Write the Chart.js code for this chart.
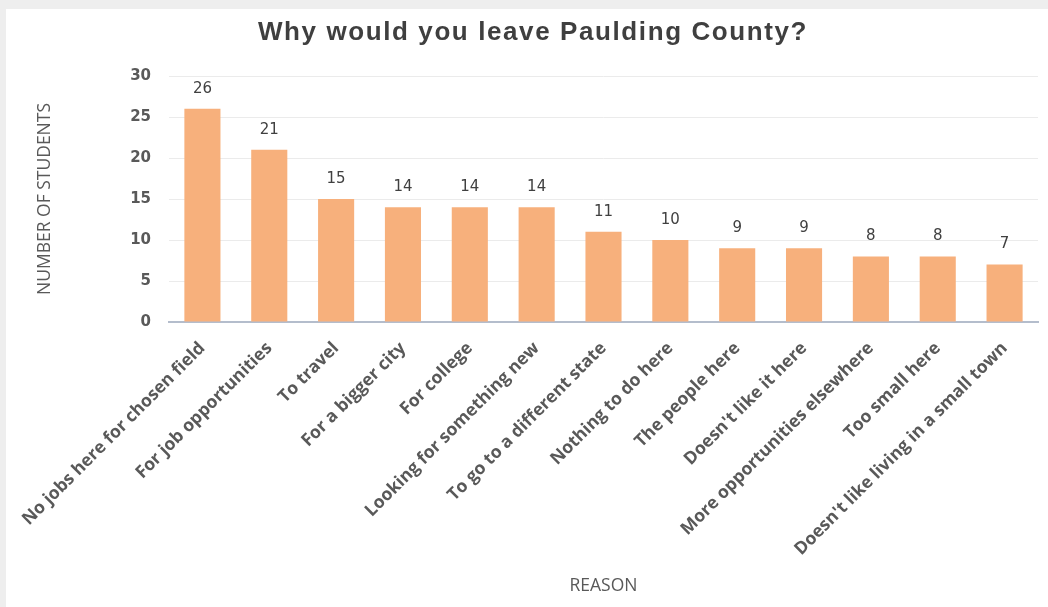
<!DOCTYPE html>
<html>
<head>
<meta charset="utf-8">
<script src="https://cdn.jsdelivr.net/npm/chart.js@4.4.1/dist/chart.umd.min.js"></script>
<style>
  html, body { margin: 0; padding: 0; background: #fff; }
  canvas { display: block; }
</style>
</head>
<body>
<canvas id="leaveChart" width="1048" height="607"></canvas>
<script>
const chartTitle = "Why would you leave Paulding County?";
const reasons = [
    "No jobs here for chosen field",
    "For job opportunities",
    "To travel",
    "For a bigger city",
    "For college",
    "Looking for something new",
    "To go to a different state",
    "Nothing to do here",
    "The people here",
    "Doesn't like it here",
    "More opportunities elsewhere",
    "Too small here",
    "Doesn't like living in a small town",
];
const students = [26, 21, 15, 14, 14, 14, 11, 10, 9, 9, 8, 8, 7];
const yTicks = [0, 5, 10, 15, 20, 25, 30];

const barColor = "#f7b07c";
const textGray = "#595959";

// grey frame around the white card
const frame = {
    id: "frame",
    beforeDraw(chart) {
        const c = chart.ctx;
        c.save();
        c.fillStyle = "#eeeeee";
        c.fillRect(0, 0, chart.width, chart.height);
        c.fillStyle = "#ffffff";
        c.fillRect(6, 9, chart.width - 6, chart.height - 9);
        c.restore();
    },
};

// spaced-out heading, centred over the card
const heading = {
    id: "heading",
    afterDraw(chart) {
        const c = chart.ctx;
        c.save();
        c.font = "bold 26px 'Liberation Sans', Arial";
        c.letterSpacing = "1.6px";
        c.fillStyle = "#3f3f3f";
        c.textAlign = "center";
        c.textBaseline = "middle";
        c.fillText(chartTitle, 533, 33);
        c.restore();
    },
};

// value printed above each bar
const valueLabels = {
    id: "valueLabels",
    afterDatasetsDraw(chart) {
        const c = chart.ctx;
        const meta = chart.getDatasetMeta(0);
        c.save();
        c.font = "15px 'DejaVu Sans'";
        c.fillStyle = "#404040";
        c.textAlign = "center";
        c.textBaseline = "middle";
        meta.data.forEach((bar, i) => {
            c.fillText(students[i], bar.x, bar.y - 20);
        });
        c.restore();
    },
};

const ctx = document.getElementById("leaveChart").getContext("2d");

const chart = new Chart(ctx, {
    type: "bar",
    data: {
        labels: reasons,
        datasets: [
            {
                data: students,
                backgroundColor: barColor,
                borderWidth: 0,
                categoryPercentage: 1,
                barPercentage: 0.54,
            },
        ],
    },
    options: {
        responsive: false,
        animation: false,
        layout: {
            padding: { left: 26, right: 10, top: 76, bottom: 10 },
        },
        plugins: {
            legend: { display: false },
            tooltip: { enabled: false },
            title: { display: false },
        },
        scales: {
            x: {
                grid: { display: false },
                border: { color: "#b4bdcc", width: 2 },
                ticks: {
                    autoSkip: false,
                    minRotation: 45,
                    maxRotation: 45,
                    padding: 8,
                    color: textGray,
                    font: { family: "'Open Sans'", size: 17.5, weight: "bold" },
                },
                title: {
                    display: true,
                    text: "REASON",
                    color: textGray,
                    font: { family: "'Open Sans'", size: 17.5 },
                    padding: { top: 0, bottom: 0 },
                },
                afterFit(scale) {
                    scale.height = 275;
                },
            },
            y: {
                min: 0,
                max: 30,
                afterBuildTicks(scale) {
                    scale.ticks = yTicks.map((v) => ({ value: v }));
                },
                grid: { color: "#ebebeb", drawTicks: false },
                border: { display: false },
                ticks: {
                    padding: 18,
                    color: textGray,
                    font: { family: "'DejaVu Sans'", size: 15, weight: "bold" },
                },
                title: {
                    display: true,
                    text: "NUMBER OF STUDENTS",
                    color: textGray,
                    font: { family: "'Open Sans'", size: 17.5 },
                    padding: { top: 9, bottom: 0 },
                },
                afterFit(scale) {
                    scale.width = 143;
                },
            },
        },
    },
    plugins: [frame, heading, valueLabels],
});
</script>
</body>
</html>
